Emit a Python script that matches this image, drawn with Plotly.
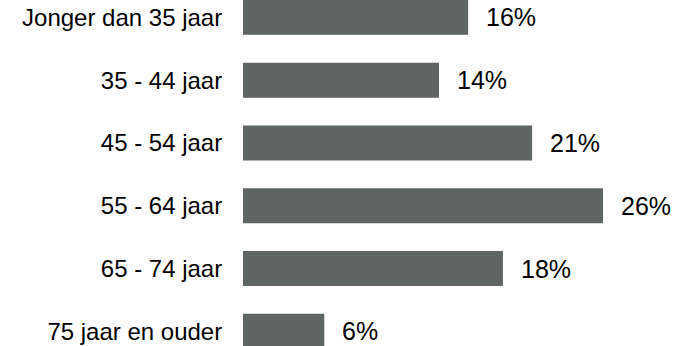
import plotly.graph_objects as go

categories = ["Jonger dan 35 jaar", "35 - 44 jaar", "45 - 54 jaar",
              "55 - 64 jaar", "65 - 74 jaar", "75 jaar en ouder"]
values = [16.2, 14.1, 20.8, 25.9, 18.7, 5.85]
value_labels = ["16%", "14%", "21%", "26%", "18%", "6%"]

BAR_COLOR = "#5e6563"
FONT = "Liberation Sans, Arial, sans-serif"

fig = go.Figure()
fig.add_trace(go.Bar(
    x=values, y=categories, orientation="h",
    marker=dict(color=BAR_COLOR, line=dict(width=0)),
    width=0.557, hoverinfo="skip",
))

for c, v, t in zip(categories, values, value_labels):
    fig.add_annotation(x=v, y=c, text=t, showarrow=False, xanchor="left",
                       xshift=16, yanchor="middle",
                       font=dict(family=FONT, size=25, color="#000000"))

fig.update_layout(
    width=685, height=346,
    margin=dict(l=243, r=0, t=0, b=0),
    paper_bgcolor="white", plot_bgcolor="white",
    showlegend=False,
    font=dict(family=FONT, color="#000000"),
    xaxis=dict(range=[0, 31.8], visible=False, fixedrange=True),
    yaxis=dict(type="category", categoryorder="array", categoryarray=categories,
               range=[5.233, -0.276], showgrid=False, zeroline=False,
               showline=False, ticks="outside", ticklen=15,
               tickcolor="rgba(0,0,0,0)", fixedrange=True,
               tickfont=dict(family=FONT, size=24, color="#000000")),
)

fig.write_html("out.html", config={"displayModeBar": False},
               post_script="document.body.style.margin='0';document.body.style.overflow='hidden';")
